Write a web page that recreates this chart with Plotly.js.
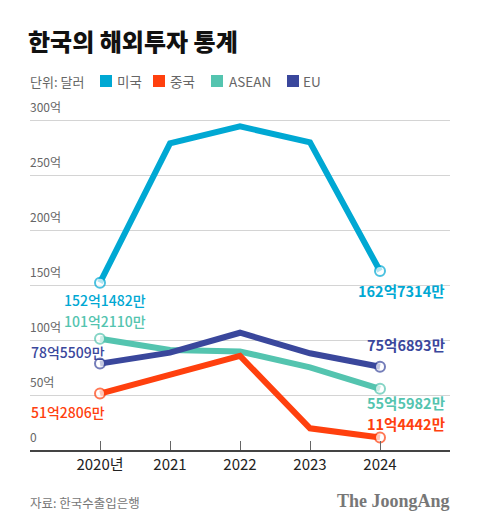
<!DOCTYPE html>
<html>
<head>
<meta charset="utf-8">
<script src="https://cdn.plot.ly/plotly-3.0.1.min.js"></script>
<style>html,body{margin:0;padding:0;background:#fff;}#chart{width:480px;height:529px;}</style>
</head>
<body>
<div id="chart"></div>
<script>
// ---- data ----
const years = [2020, 2021, 2022, 2023, 2024];
const yearLabels = ['2020년', '2021', '2022', '2023', '2024'];
const seriesNames = ['미국', '중국', 'ASEAN', 'EU'];
const usValues = [152.1482, 278.8, 294.2, 279.7, 162.7314];
const chinaValues = [51.2806, 68.2, 85.5, 19.7, 11.4442];
const aseanValues = [101.2110, 90.9, 89.5, 75.2, 55.5982];
const euValues = [78.5509, 88.5, 106.6, 87.9, 75.6893];
const startLabels = ['152억1482만', '51억2806만', '101억2110만', '78억5509만'];
const endLabels = ['162억7314만', '11억4442만', '55억5982만', '75억6893만'];
const yTickVals = [0, 50, 100, 150, 200, 250, 300];
const yTickText = ['0', '50억', '100억', '150억', '200억', '250억', '300억'];

// ---- styles ----
const colors = ['#00A8D3', '#FF400E', '#54C4AF', '#3A479C'];
const FONT = '"Noto Sans CJK KR", "Noto Sans", sans-serif';
const allValues = [usValues, chinaValues, aseanValues, euValues];

// pixel helpers for the plot area (l=30, r=30, t=88, b=79)
const L = 30, T = 88, W = 420, H = 362;
const px = x => (x - L) / W;
const py = y => (T + H - y) / H;

// draw order: ASEAN, EU, China, US
const order = [2, 3, 1, 0];
const traces = order.map(i => ({
  type: 'scatter',
  mode: 'lines+markers',
  x: years,
  y: allValues[i],
  name: seriesNames[i],
  showlegend: false,
  hoverinfo: 'skip',
  line: {color: colors[i], width: 6},
  marker: {
    size: [10, 0, 0, 0, 10],
    color: '#ffffff',
    line: {color: colors[i], width: 2}
  }
}));

const startCfg = [
  {i: 0, xshift: -37, yshift: -17},
  {i: 1, xshift: -70, yshift: -18},
  {i: 2, xshift: -37, yshift: 18},
  {i: 3, xshift: -70, yshift: 12}
];
const endCfg = [
  {i: 0, yshift: -19},
  {i: 1, yshift: 14},
  {i: 2, yshift: -13.5},
  {i: 3, yshift: 22}
];

const annotations = [];
startCfg.forEach(c => annotations.push({
  x: years[0], y: allValues[c.i][0], xref: 'x', yref: 'y',
  text: startLabels[c.i], showarrow: false, borderpad: 0,
  xanchor: 'left', yanchor: 'middle', xshift: c.xshift, yshift: c.yshift,
  font: {family: FONT, size: 14, color: colors[c.i], weight: 500}
}));
endCfg.forEach(c => annotations.push({
  x: years[4], y: allValues[c.i][4], xref: 'x', yref: 'y',
  text: endLabels[c.i], showarrow: false, borderpad: 0,
  xanchor: 'right', yanchor: 'middle', xshift: 66, yshift: c.yshift,
  font: {family: FONT, size: 14.5, color: colors[c.i], weight: 700}
}));

// legend row
annotations.push({
  x: px(28), y: py(81), xref: 'paper', yref: 'paper', text: '단위: 달러',
  showarrow: false, xanchor: 'left', yanchor: 'middle',
  font: {family: FONT, size: 13, color: '#666'}
});
const legSquares = [100, 153, 211, 287];
const legText = [115, 168, 227, 301];
const shapes = [];
seriesNames.forEach((n, i) => {
  shapes.push({
    type: 'rect', xref: 'paper', yref: 'paper',
    x0: px(legSquares[i]), x1: px(legSquares[i] + 12),
    y0: py(87), y1: py(75),
    fillcolor: colors[i], line: {width: 0}
  });
  annotations.push({
    x: px(legText[i]), y: py(81), xref: 'paper', yref: 'paper', text: n,
    showarrow: false, xanchor: 'left', yanchor: 'middle',
    font: {family: FONT, size: 13.5, color: '#666'}
  });
});

// footer
annotations.push({
  x: px(28), y: py(502), xref: 'paper', yref: 'paper', text: '자료: 한국수출입은행',
  showarrow: false, xanchor: 'left', yanchor: 'middle',
  font: {family: FONT, size: 12.5, color: '#777'}
});
annotations.push({
  x: px(452), y: py(501), xref: 'paper', yref: 'paper', text: 'The JoongAng',
  showarrow: false, xanchor: 'right', yanchor: 'middle',
  font: {family: '"Liberation Serif", "DejaVu Serif", serif', size: 18, color: '#777', weight: 700}
});

const layout = {
  width: 480, height: 529,
  margin: {l: L, r: 30, t: T, b: 79},
  paper_bgcolor: '#fff', plot_bgcolor: '#fff',
  showlegend: false,
  title: {
    text: '한국의 해외투자 통계',
    x: 28 / 480, xanchor: 'left', xref: 'container',
    y: 1 - 43 / 529, yanchor: 'middle', yref: 'container',
    font: {family: FONT, size: 24, color: '#111', weight: 900}
  },
  xaxis: {
    range: [2019, 2025],
    tickvals: years, ticktext: yearLabels,
    ticks: 'inside', ticklen: 9, tickcolor: '#666', tickwidth: 1,
    showline: true, linecolor: '#444', linewidth: 1.5,
    showgrid: false, zeroline: false,
    tickfont: {family: FONT, size: 15, color: '#222'},
    fixedrange: true
  },
  yaxis: {
    range: [0, H / 1.1],
    tickvals: yTickVals, ticktext: yTickText,
    ticklabelposition: 'inside top',
    ticklabelshift: -4, ticklabelstandoff: -3,
    showgrid: true, gridcolor: '#d4d4d4', gridwidth: 1,
    zeroline: false, showline: false, ticks: '',
    tickfont: {family: FONT, size: 12, color: '#666'},
    fixedrange: true
  },
  annotations: annotations,
  shapes: shapes
};

Plotly.newPlot('chart', traces, layout, {staticPlot: true, displayModeBar: false});
</script>
</body>
</html>
